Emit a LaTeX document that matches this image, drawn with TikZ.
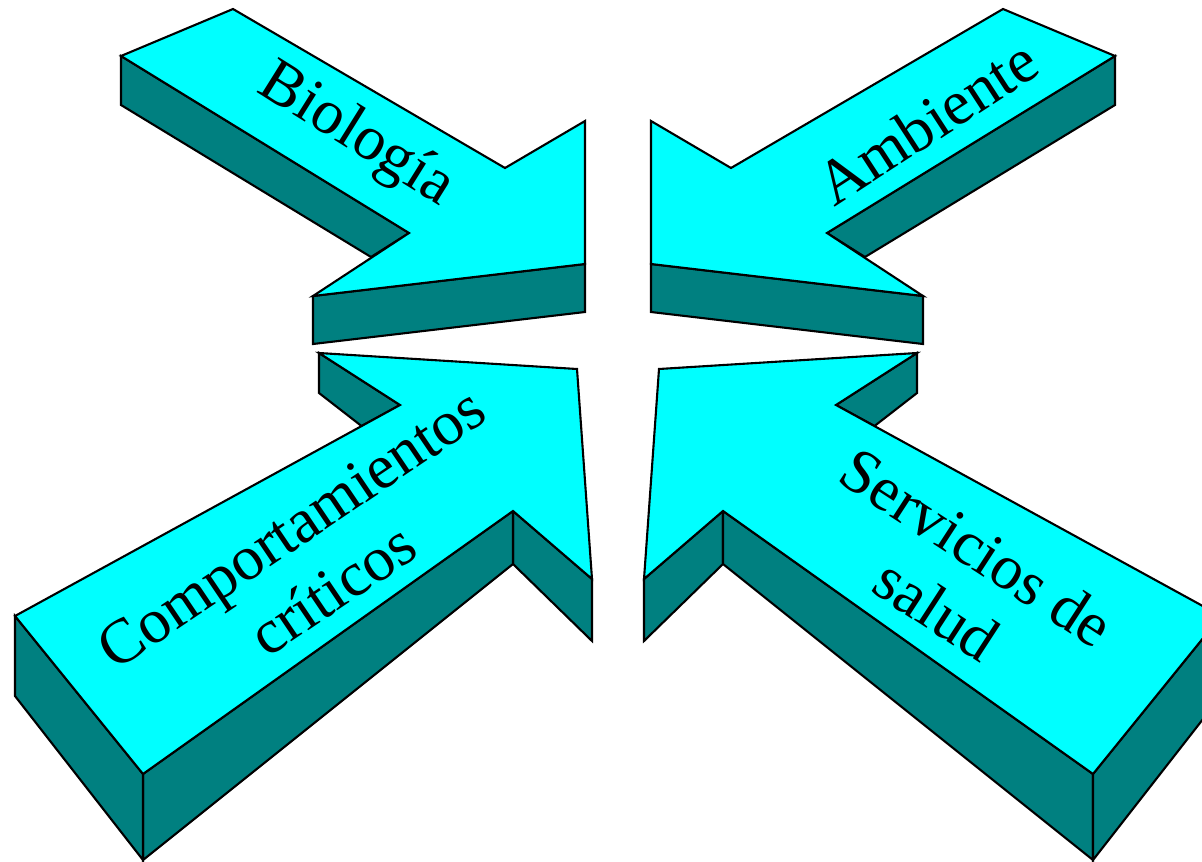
\documentclass[tikz,border=0pt]{standalone}
\usepackage{fontspec}
\setmainfont{Liberation Serif}
\definecolor{topc}{RGB}{0,255,255}
\definecolor{sidec}{RGB}{0,128,128}
\begin{document}
\begin{tikzpicture}[x=1pt,y=-1pt,
  topface/.style={fill=topc,draw=black,line width=2.1pt,line join=miter},
  sideface/.style={fill=sidec,draw=black,line width=2.1pt,line join=miter},
  lbl/.style={font=\fontsize{63}{74}\selectfont,align=center,inner sep=0pt}]
\useasboundingbox (0,0) rectangle (1202,862);
\begin{scope}
\clip (0,0) rectangle (1202,862);
% ---- Biologia (top-left) ----
\draw[sideface] (121,56) -- (409,233) -- (371,257) -- (121,105) -- cycle;
\draw[sideface] (313,296) -- (585,264) -- (585,312) -- (313,344) -- cycle;
\draw[topface] (121,56) -- (233,9) -- (505,168) -- (585,121) -- (585,264) -- (313,296) -- (409,233) -- cycle;
% ---- Ambiente (top-right) ----
\draw[sideface] (1115,56) -- (827,233) -- (865,257) -- (1115,105) -- cycle;
\draw[sideface] (923,296) -- (651,264) -- (651,312) -- (923,344) -- cycle;
\draw[topface] (1115,56) -- (1003,9) -- (731,168) -- (651,121) -- (651,264) -- (923,296) -- (827,233) -- cycle;
% ---- Comportamientos (bottom-left) ----
\draw[sideface] (319,353) -- (400,405) -- (361.5,426) -- (319,393) -- cycle;
\draw[sideface] (513,511) -- (592,579) -- (592,641) -- (513,564) -- cycle;
\draw[sideface] (513,511) -- (143,774) -- (143,860) -- (513,564) -- cycle;
\draw[sideface] (15,616) -- (143,774) -- (143,860) -- (15,696) -- cycle;
\draw[topface] (319,353) -- (577,369) -- (592,579) -- (513,511) -- (143,774) -- (15,616) -- (400,405) -- cycle;
% ---- Servicios (bottom-right) ----
\draw[sideface] (917,353) -- (836,405) -- (874.5,426) -- (917,393) -- cycle;
\draw[sideface] (723,511) -- (644,579) -- (644,641) -- (723,564) -- cycle;
\draw[sideface] (723,511) -- (1093,774) -- (1093,860) -- (723,564) -- cycle;
\draw[sideface] (1221,616) -- (1093,774) -- (1093,860) -- (1221,696) -- cycle;
\draw[topface] (917,353) -- (659,369) -- (644,579) -- (723,511) -- (1093,774) -- (1221,616) -- (836,405) -- cycle;
\end{scope}
% ---- labels ----
\node[lbl,rotate=-32] (bio) at (356,136) {Biología};
\node[lbl,rotate=33] (amb) at (927,122) {Ambiente};
\node[lbl,rotate=34] (comp) at (312,559) {Comportamientos\\críticos};
\node[lbl,rotate=-33] (serv) at (957,578) {Servicios de\\salud};
\end{tikzpicture}
\end{document}
